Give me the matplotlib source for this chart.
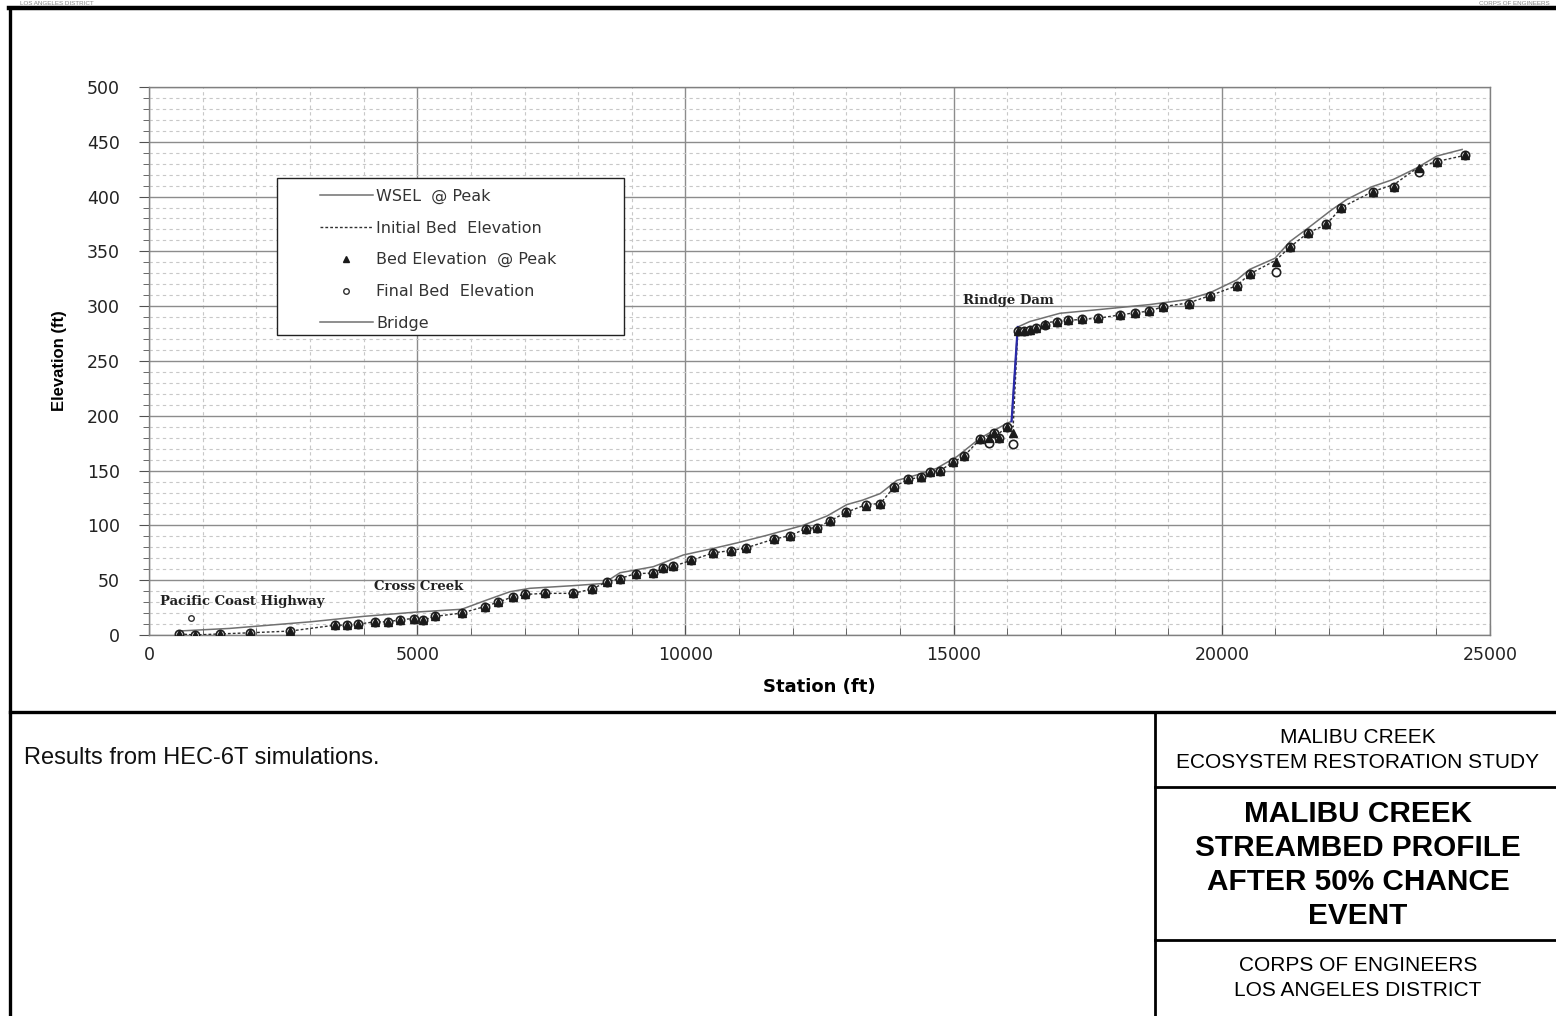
import matplotlib
matplotlib.use("Agg")
import matplotlib.pyplot as plt
from matplotlib.lines import Line2D
from matplotlib.patches import Rectangle
from matplotlib.ticker import MultipleLocator

plt.rcParams["font.family"] = ["Liberation Sans", "DejaVu Sans"]

# -----------------------------
# datos
# -----------------------------
wsel_station = [540, 1500, 3000, 4000, 5000, 5830, 6300, 6730, 7100, 7900, 8470,
                8780, 9400, 9960, 10520, 10960, 11520, 12190, 12640, 13010, 13300,
                13630, 13940, 14310, 14680, 15060, 15490, 15990, 16080, 16195,
                16420, 16980, 17730, 18660, 19350, 19780, 20280, 20520, 20990,
                21270, 21600, 22050, 22330, 22800, 23200, 23630, 24010, 24480]
wsel_elev = [3.6, 6, 12, 17, 21, 23.5, 32, 39.5, 42.6, 45, 47,
             56.8, 62.3, 73, 79, 84, 91, 100, 108.6, 119, 123,
             129, 141, 146, 152, 162.7, 179.5, 193, 195, 281,
             286, 293.5, 297, 301.5, 306, 312.3, 324, 333.6, 343.7,
             359, 371, 388, 397.4, 409, 415.7, 426, 437, 443]

bed_station = [565, 860, 1320, 1880, 2630, 3470, 3690, 3900, 4210, 4460, 4680,
               4930, 5110, 5330, 5830, 6260, 6510, 6790, 7010, 7380, 7910, 8260,
               8540, 8780, 9070, 9400, 9590, 9775, 10100, 10520, 10845, 11130,
               11650, 11950, 12240, 12450, 12690, 13000, 13370, 13635, 13890,
               14140, 14400, 14560, 14750, 14995, 15190, 15500, 15650, 15760,
               15850, 15990, 16110, 16195, 16310, 16420, 16540, 16700, 16920,
               17140, 17390, 17690, 18100, 18380, 18650, 18900, 19380, 19780,
               20280, 20520, 21010, 21270, 21610, 21950, 22230, 22810, 23210,
               23670, 24010, 24530]
bed_initial = [1, 0, 1, 2, 3.6, 9, 9, 10, 12, 12, 14,
               15, 13.5, 17, 20, 26, 30, 35, 37, 38, 38, 42,
               48.6, 51.5, 56, 56.5, 61, 62.7, 68, 75, 77, 79.5,
               87.5, 90.6, 97, 98, 104, 112, 119, 120, 135,
               142, 144, 148.7, 150, 158, 163, 179, 182, 185,
               184, 190, 190, 277, 277, 278, 280, 285, 286,
               287, 288, 289, 292, 294, 295.5, 299.5, 303, 309.6,
               318.7, 329.4, 342, 354, 367, 374.6, 390, 404.5, 411,
               427, 432, 437.6]
bed_peak = [1, 0, 1, 2, 3.6, 9, 9, 10, 12, 12, 14,
            15, 13.5, 17, 20, 26, 30, 35, 37, 38, 38, 42,
            48.6, 51.5, 56, 56.5, 61, 62.7, 68, 75, 77, 79.5,
            87.5, 90.6, 97, 98, 104, 112, 118, 119.5, 135,
            142, 144, 148.7, 150, 158, 163, 179, 180, 184.6,
            180, 190, 184.6, 277, 277, 278, 280, 284, 286,
            287, 288, 289, 292, 294, 295.5, 299.5, 302, 309.6,
            318.7, 329.4, 340, 354, 367, 374.6, 390, 404.5, 409,
            426, 432, 437.6]
bed_final = [1, 0, 1, 2, 3.6, 9, 9, 10, 12, 12, 14,
             15, 13.5, 17, 20, 26, 30, 35, 37, 38, 38, 42,
             48.6, 51.5, 56, 56.5, 61, 62.7, 68, 75, 77, 79.5,
             87.5, 90.6, 97, 98, 104, 112, 118.5, 119.5, 135,
             142, 144, 148.7, 150, 158, 163, 179, 175.5, 184.6,
             180, 190, 174.3, 277, 277, 278, 280, 282.8, 286,
             287, 288, 289, 292, 294, 295.5, 299.5, 301.6, 309.6,
             318.7, 329.4, 331.5, 354, 367, 374.6, 390, 404.5, 408.5,
             422, 432, 437.6]

pch_station = [780]
pch_final = [15.5]

# salto de la presa (tramo del WSEL)
dam_station = [16080, 16195]
dam_elev = [195, 281]

notas = [("Pacific Coast Highway", 200, 31),
         ("Cross Creek", 4200, 44.5),
         ("Rindge Dam", 15180, 305.5)]

# -----------------------------
# figura
# -----------------------------
fig = plt.figure(figsize=(15.56, 10.16), dpi=100)
ax = fig.add_axes([0.0958, 0.375, 0.8618, 0.5394])

ax.set_xlim(0, 25000)
ax.set_ylim(0, 500)
ax.xaxis.set_major_locator(MultipleLocator(5000))
ax.xaxis.set_minor_locator(MultipleLocator(1000))
ax.yaxis.set_major_locator(MultipleLocator(50))
ax.yaxis.set_minor_locator(MultipleLocator(10))

ax.grid(which="major", color="#8c8c8c", linewidth=1.0, linestyle="-")
ax.grid(which="minor", color="#c8c8c8", linewidth=0.8, linestyle=(0, (3, 3)))
ax.set_axisbelow(True)

for s in ax.spines.values():
    s.set_color("#808080")
    s.set_linewidth(1.0)

ax.tick_params(axis="y", which="major", direction="out", length=7,
               color="#505050", pad=14)
ax.tick_params(axis="y", which="minor", direction="out", length=4,
               color="#505050")
ax.tick_params(axis="x", which="major", direction="in", length=7,
               color="#505050", pad=8)
ax.tick_params(axis="x", which="minor", direction="in", length=5,
               color="#505050")
for lab in ax.get_xticklabels() + ax.get_yticklabels():
    lab.set_family(["DejaVu Sans"])
    lab.set_fontsize(12.5)
    lab.set_color("#222222")

ax.plot(wsel_station, wsel_elev, color="#707070", linewidth=1.1,
        label="WSEL  @ Peak", zorder=3)
ax.plot(dam_station, dam_elev, color="#2a2aa8", linewidth=1.6, zorder=4)
ax.plot(bed_station, bed_initial, color="#303030", linewidth=1.0,
        linestyle=(0, (2, 1.5)), label="Initial Bed  Elevation", zorder=3)
ax.plot(bed_station, bed_final, linestyle="none", marker="o", markersize=6,
        markerfacecolor="white", markeredgecolor="#202020", markeredgewidth=1.2,
        label="Final Bed  Elevation", zorder=5)
ax.plot(bed_station, bed_peak, linestyle="none", marker="^", markersize=5.5,
        color="#1a1a1a", label="Bed Elevation  @ Peak", zorder=6)
ax.plot(pch_station, pch_final, linestyle="none", marker="o", markersize=4,
        markerfacecolor="white", markeredgecolor="#303030", markeredgewidth=1.0,
        zorder=5)

for texto, xs, ys in notas:
    ax.text(xs, ys, texto, fontsize=9.5, fontweight="bold",
            family=["DejaVu Serif"], va="center", ha="left",
            color="#222222", zorder=7)

ax.set_xlabel("Station (ft)", fontsize=13, fontweight="bold",
              family=["DejaVu Sans"], labelpad=10)
ax.set_ylabel("Elevation (ft)", fontsize=12, fontweight="bold",
              family=["Liberation Sans Narrow", "Liberation Sans"], labelpad=14)

# -----------------------------
# leyenda manual
# -----------------------------
ax.add_patch(Rectangle((0.0954, 0.547), 0.2588, 0.287, transform=ax.transAxes,
                       facecolor="white", edgecolor="#222222", linewidth=1.0,
                       zorder=8))
handles = [
    Line2D([], [], color="#707070", linewidth=1.1),
    Line2D([], [], color="#303030", linewidth=1.0, linestyle=(0, (2, 1.5))),
    Line2D([], [], linestyle="none", marker="^", markersize=4, color="#1a1a1a"),
    Line2D([], [], linestyle="none", marker="o", markersize=4,
           markerfacecolor="white", markeredgecolor="#303030"),
    Line2D([], [], color="#707070", linewidth=1.1),
]
etiquetas = ["WSEL  @ Peak", "Initial Bed  Elevation", "Bed Elevation  @ Peak",
             "Final Bed  Elevation", "Bridge"]
leg = ax.legend(handles, etiquetas, loc="upper left",
                bbox_to_anchor=(0.118, 0.838), frameon=False,
                prop={"family": "DejaVu Sans", "size": 11.5},
                handlelength=3.3, handletextpad=0.2, labelspacing=1.05,
                borderpad=0.3)
leg.set_zorder(9)
for t in leg.get_texts():
    t.set_color("#333333")

# -----------------------------
# marco y cuadro de titulo
# -----------------------------
def linea(x0, y0, x1, y1, lw):
    fig.add_artist(Line2D([x0 / 1556, x1 / 1556], [1 - y0 / 1016, 1 - y1 / 1016],
                          color="black", linewidth=lw, transform=fig.transFigure))

linea(9, 8, 1556, 8, 3.2)
linea(10, 8, 10, 1016, 2.4)
linea(10, 712, 1556, 712, 2.4)
linea(1155, 712, 1155, 1016, 2.0)
linea(1155, 787, 1556, 787, 2.0)
linea(1155, 940, 1556, 940, 2.0)

fig.text(20 / 1556, 0.9995, "LOS ANGELES DISTRICT", fontsize=4.5, color="#888888",
         ha="left", va="top")
fig.text(1550 / 1556, 0.9995, "CORPS OF ENGINEERS", fontsize=4.5, color="#888888",
         ha="right", va="top")

fig.text(24 / 1556, 1 - 758 / 1016, "Results from HEC-6T simulations.",
         fontsize=17, ha="left", va="center", color="#111111")

cx = 1358 / 1556
fig.text(cx, 1 - 750 / 1016, "MALIBU CREEK\nECOSYSTEM RESTORATION STUDY",
         fontsize=15, ha="center", va="center", linespacing=1.4)
fig.text(cx, 1 - 865 / 1016,
         "MALIBU CREEK\nSTREAMBED PROFILE\nAFTER 50% CHANCE\nEVENT",
         fontsize=21.4, fontweight="bold", ha="center", va="center",
         linespacing=1.27)
fig.text(cx, 1 - 978 / 1016, "CORPS OF ENGINEERS\nLOS ANGELES DISTRICT",
         fontsize=15, ha="center", va="center", linespacing=1.4)

fig.savefig("out.png", dpi=100)
